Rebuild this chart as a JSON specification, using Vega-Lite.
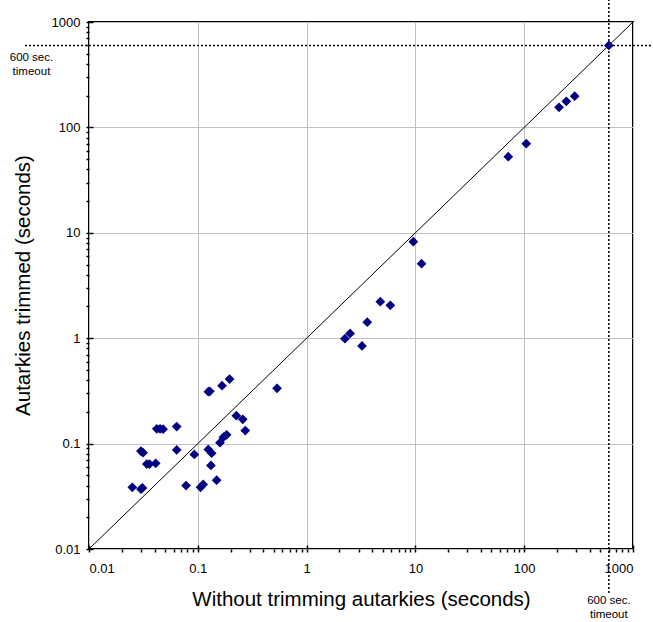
{
  "$schema": "https://vega.github.io/schema/vega-lite/v6.json",
  "autosize": {"type": "none"},
  "padding": {"left": 89, "top": 22, "right": 20, "bottom": 73},
  "width": 544,
  "height": 527,
  "background": "white",
  "config": {
    "view": {"stroke": "black", "strokeWidth": 2},
    "axis": {
      "labelFont": "Liberation Sans",
      "titleFont": "Liberation Sans",
      "labelFontSize": 13,
      "titleFontSize": 20.5,
      "titleFontWeight": "normal",
      "labelColor": "black",
      "titleColor": "black",
      "tickColor": "black",
      "tickWidth": 1.5,
      "domain": false,
      "gridColor": "#c0c0c0",
      "gridWidth": 1,
      "gridOpacity": 1
    }
  },
  "datasets": {
    "pts": [
      {"x": 0.025, "y": 0.0385}, {"x": 0.030, "y": 0.037}, {"x": 0.031, "y": 0.038},
      {"x": 0.030, "y": 0.085}, {"x": 0.0314, "y": 0.082}, {"x": 0.034, "y": 0.064},
      {"x": 0.036, "y": 0.064}, {"x": 0.041, "y": 0.065}, {"x": 0.042, "y": 0.138},
      {"x": 0.045, "y": 0.138}, {"x": 0.048, "y": 0.137}, {"x": 0.064, "y": 0.145},
      {"x": 0.064, "y": 0.087}, {"x": 0.078, "y": 0.040}, {"x": 0.093, "y": 0.079},
      {"x": 0.106, "y": 0.0385}, {"x": 0.112, "y": 0.041}, {"x": 0.125, "y": 0.311},
      {"x": 0.129, "y": 0.313}, {"x": 0.125, "y": 0.088}, {"x": 0.134, "y": 0.081},
      {"x": 0.132, "y": 0.062}, {"x": 0.149, "y": 0.045}, {"x": 0.167, "y": 0.354},
      {"x": 0.196, "y": 0.410}, {"x": 0.160, "y": 0.102}, {"x": 0.172, "y": 0.115},
      {"x": 0.184, "y": 0.121}, {"x": 0.226, "y": 0.184}, {"x": 0.259, "y": 0.170},
      {"x": 0.273, "y": 0.133}, {"x": 0.535, "y": 0.335}, {"x": 2.25, "y": 0.99},
      {"x": 2.51, "y": 1.11}, {"x": 3.23, "y": 0.844}, {"x": 3.61, "y": 1.42},
      {"x": 4.76, "y": 2.22}, {"x": 5.88, "y": 2.05}, {"x": 9.57, "y": 8.24},
      {"x": 11.4, "y": 5.09}, {"x": 71.4, "y": 52.7}, {"x": 104.5, "y": 70.0},
      {"x": 209, "y": 155}, {"x": 244, "y": 177}, {"x": 291, "y": 198},
      {"x": 600, "y": 600}
    ],
    "diag": [{"x": 0.01, "y": 0.01, "x2": 1000, "y2": 1000}],
    "timeout": [
      {"x": 600, "x2": 600, "y": 0.00382, "y2": 1618},
      {"x": 0.00258, "x2": 1528, "y": 600, "y2": 600}
    ],
    "labels": [
      {"x": 0.00296, "y": 460, "t": "600 sec.\ntimeout"},
      {"x": 600, "y": 0.00321, "t": "600 sec.\ntimeout"}
    ]
  },
  "resolve": {"axis": {"x": "independent", "y": "independent"}},
  "layer": [
    {
      "data": {"name": "diag"},
      "mark": {"type": "rule", "color": "black", "strokeWidth": 1},
      "encoding": {
        "x": {"field": "x", "type": "quantitative",
              "scale": {"type": "log", "domain": [0.01, 1000], "nice": false, "zero": false},
              "axis": {"orient": "bottom", "values": [0.01, 0.1, 1, 10, 100, 1000], "grid": true,
                       "labelExpr": "datum.value", "tickSize": 3, "labelPadding": 10,
                       "title": "Without trimming autarkies (seconds)",
                       "titleBaseline": "alphabetic", "titleX": 272, "titleY": 56}},
        "y": {"field": "y", "type": "quantitative",
              "scale": {"type": "log", "domain": [0.01, 1000], "nice": false, "zero": false},
              "axis": {"orient": "left", "values": [0.01, 0.1, 1, 10, 100, 1000], "grid": true,
                       "labelExpr": "datum.value", "tickSize": 3, "labelPadding": 6,
                       "title": "Autarkies trimmed (seconds)",
                       "titleBaseline": "alphabetic", "titleX": -60, "titleY": 263}},
        "x2": {"field": "x2"},
        "y2": {"field": "y2"}
      }
    },
    {
      "data": {"name": "timeout"},
      "mark": {"type": "rule", "color": "black", "strokeWidth": 1.5, "strokeDash": [2, 2], "clip": false},
      "encoding": {
        "x": {"field": "x", "type": "quantitative",
              "axis": {"orient": "bottom", "values": [0.02,0.03,0.04,0.05,0.06,0.07,0.08,0.09,0.2,0.3,0.4,0.5,0.6,0.7,0.8,0.9,2,3,4,5,6,7,8,9,20,30,40,50,60,70,80,90,200,300,400,500,600,700,800,900],
                       "labels": false, "grid": false, "tickSize": 3, "title": null}},
        "y": {"field": "y", "type": "quantitative",
              "axis": {"orient": "left", "values": [0.02,0.03,0.04,0.05,0.06,0.07,0.08,0.09,0.2,0.3,0.4,0.5,0.6,0.7,0.8,0.9,2,3,4,5,6,7,8,9,20,30,40,50,60,70,80,90,200,300,400,500,600,700,800,900],
                       "labels": false, "grid": false, "tickSize": 3, "title": null}},
        "x2": {"field": "x2"},
        "y2": {"field": "y2"}
      }
    },
    {
      "data": {"name": "pts"},
      "mark": {"type": "point", "shape": "diamond", "filled": true, "color": "#000080", "opacity": 1, "size": 95},
      "encoding": {
        "x": {"field": "x", "type": "quantitative",
              "axis": {"orient": "bottom", "values": [0.01, 0.1, 1, 10, 100, 1000],
                       "labels": false, "grid": false, "tickSize": -4, "title": null}},
        "y": {"field": "y", "type": "quantitative",
              "axis": {"orient": "left", "values": [0.01, 0.1, 1, 10, 100, 1000],
                       "labels": false, "grid": false, "tickSize": -4, "title": null}}
      }
    },
    {
      "data": {"name": "labels"},
      "mark": {"type": "text", "font": "Liberation Sans", "fontSize": 11.5, "color": "black",
               "lineBreak": "\n", "lineHeight": 14, "align": "center", "baseline": "middle", "clip": false},
      "encoding": {
        "x": {"field": "x", "type": "quantitative", "axis": null},
        "y": {"field": "y", "type": "quantitative", "axis": null},
        "text": {"field": "t"}
      }
    }
  ]
}
